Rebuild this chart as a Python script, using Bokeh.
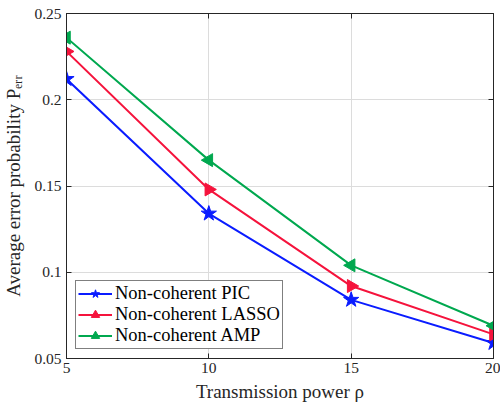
from bokeh.plotting import figure
from bokeh.models import LinearAxis, Legend, LegendItem, FixedTicker, Range1d
from bokeh.embed import file_html
from bokeh.resources import INLINE
import numpy as np

power = [5, 10, 15, 20]
pic = [0.212, 0.134, 0.084, 0.059]
lasso = [0.228, 0.148, 0.092, 0.064]
amp = [0.236, 0.165, 0.104, 0.069]
x_ticks = [5, 10, 15, 20]
y_ticks = [0.05, 0.1, 0.15, 0.2, 0.25]

FONT = "Liberation Serif"
AX = "#262626"

p = figure(width=500, height=404, output_backend="svg", toolbar_location=None,
           x_range=Range1d(5, 20), y_range=Range1d(0.05, 0.25),
           min_border_left=10, min_border_top=13, min_border_right=7, min_border_bottom=4)

p.outline_line_color = AX
p.outline_line_width = 1

for ax in (p.xaxis[0], p.yaxis[0]):
    ax.major_tick_in = 5
    ax.major_tick_out = 0
    ax.minor_tick_line_color = None
    ax.axis_line_color = AX
    ax.major_tick_line_color = AX
    ax.major_label_text_font = FONT
    ax.major_label_text_font_size = "15.5px"
    ax.major_label_text_color = AX
    ax.axis_label_text_font = FONT
    ax.axis_label_text_font_size = "19px"
    ax.axis_label_text_font_style = "normal"
    ax.axis_label_text_color = AX

p.xaxis.ticker = FixedTicker(ticks=x_ticks)
p.yaxis.ticker = FixedTicker(ticks=y_ticks)
p.xaxis.major_label_overrides = {5: "5", 10: "10", 15: "15", 20: "20"}
p.yaxis.major_label_overrides = {0.05: "0.05", 0.1: "0.1", 0.15: "0.15", 0.2: "0.2", 0.25: "0.25"}
p.xaxis.axis_label = "Transmission power ρ"
p.yaxis.axis_label = "Average error probability Pₑᵣᵣ"
p.xaxis.major_label_standoff = 4
p.yaxis.major_label_standoff = 5
p.xaxis.axis_label_standoff = 5
p.yaxis.axis_label_standoff = 7

# mirrored ticks on top/right
for loc in ("right", "above"):
    a = LinearAxis(ticker=FixedTicker(ticks=y_ticks if loc == "right" else x_ticks),
                   major_tick_in=5, major_tick_out=0, minor_tick_line_color=None,
                   major_label_text_font_size="1px", major_label_text_color=None,
                   major_label_standoff=0,
                   axis_line_color=AX, major_tick_line_color=AX)
    p.add_layout(a, loc)

p.xgrid.ticker = FixedTicker(ticks=x_ticks)
p.ygrid.ticker = FixedTicker(ticks=y_ticks)
p.grid.grid_line_color = "#dcdcdc"
p.grid.grid_line_width = 1

blue = "#0a1cff"
red = "#f5133c"
green = "#00a84f"

l1 = p.line(power, pic, line_color=blue, line_width=2)
m1 = p.scatter(power, pic, marker="star", size=16, fill_color=blue, line_color=blue)
l2 = p.line(power, lasso, line_color=red, line_width=2)
m2 = p.scatter(power, lasso, marker="triangle", angle=-np.pi / 2, size=13, fill_color=red, line_color=red)
l3 = p.line(power, amp, line_color=green, line_width=2)
m3 = p.scatter(power, amp, marker="triangle", angle=np.pi / 2, size=13, fill_color=green, line_color=green)

legend = Legend(items=[
    LegendItem(label="Non-coherent PIC", renderers=[l1, m1]),
    LegendItem(label="Non-coherent LASSO", renderers=[l2, m2]),
    LegendItem(label="Non-coherent AMP", renderers=[l3, m3]),
], location="bottom_left")
legend.label_text_font = FONT
legend.label_text_font_size = "18.5px"
legend.label_text_color = "#000000"
legend.border_line_color = "#000000"
legend.border_line_width = 1
legend.background_fill_alpha = 1
legend.glyph_width = 34
legend.label_standoff = 3
legend.spacing = 0
legend.padding = 2
legend.margin = 9
legend.label_height = 21
legend.glyph_height = 21
p.add_layout(legend)

open("out.html", "w").write(file_html(p, INLINE))
